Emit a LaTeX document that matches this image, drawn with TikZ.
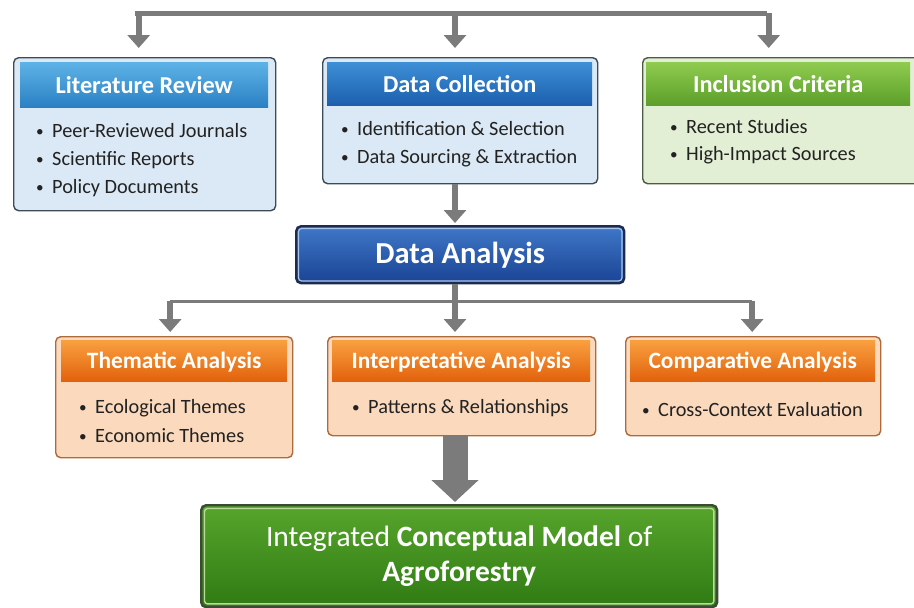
\documentclass[tikz,border=0pt]{standalone}
\usepackage{fontspec}
\setmainfont{Carlito}
\usetikzlibrary{arrows.meta,calc}
\definecolor{arrgray}{HTML}{7B7B7B}
\definecolor{txtc}{HTML}{222222}
\definecolor{blTop}{HTML}{5DB3E6}
\definecolor{blBot}{HTML}{2B80C4}
\definecolor{dbTop}{HTML}{3D8FD6}
\definecolor{dbBot}{HTML}{1D5FAE}
\definecolor{blBody}{HTML}{DAE9F5}
\definecolor{blBorder}{HTML}{3E4B57}
\definecolor{grTop}{HTML}{8FCB4F}
\definecolor{grBot}{HTML}{5C9F2A}
\definecolor{grBody}{HTML}{E3EFD5}
\definecolor{grBorder}{HTML}{4D5A45}
\definecolor{orTop}{HTML}{F8A040}
\definecolor{orBot}{HTML}{E2620C}
\definecolor{orBody}{HTML}{FAD9BD}
\definecolor{orBorder}{HTML}{B0693A}
\definecolor{daTop}{HTML}{3F77C8}
\definecolor{daBot}{HTML}{1B4394}
\definecolor{daBorder}{HTML}{1C2B4F}
\definecolor{daInner}{HTML}{A8C6EC}
\definecolor{fiTop}{HTML}{57A52C}
\definecolor{fiBot}{HTML}{2F7B14}
\definecolor{fiBorder}{HTML}{3B4A33}
\definecolor{fiInner}{HTML}{B9DC9A}
\begin{document}
\begin{tikzpicture}[x=1pt,y=-1pt,
  card/.style={draw=#1, line width=1.4pt, rounded corners=5pt, anchor=north west, inner sep=0pt},
  hdr/.style={anchor=north west, inner sep=0pt, text=white, text height=17pt, text depth=0pt,
     font=\fontsize{24.3}{26}\selectfont\bfseries},
  ohdr/.style={hdr, text height=15pt, font=\fontsize{23.4}{26}\selectfont\bfseries},
  itm/.style={anchor=base west, inner sep=0pt, text=txtc, font=\fontsize{20.3}{24}\selectfont},
  arrA/.style={draw=arrgray, line width=6pt, -{Triangle[width=22pt 0 0,length=13pt 0 0]}},
  bar/.style={draw=arrgray, line width=5pt},
  thinbar/.style={draw=arrgray, line width=3pt},
  bigarr/.style={draw=arrgray, line width=25pt, -{Triangle[width=46pt 0 0,length=22pt 0 0]}}
]
\newcommand\bul{\makebox[16pt][l]{\raisebox{1pt}{\scalebox{0.75}{\textbullet}}}}
\fill[white] (0,0) rectangle (914,608);
\useasboundingbox (0,0) rectangle (914,608);

% ---- top row cards
\node[card=blBorder, fill=blBody, minimum width=262pt, minimum height=153pt] (lit) at (13,57) {};
\node[hdr, top color=blTop, bottom color=blBot, minimum width=248pt, minimum height=45pt] (lith) at (20,62) {Literature Review};
\node[itm] (lit1) at (36,137) {\bul Peer-Reviewed Journals};
\node[itm] (lit2) at (36,165) {\bul Scientific Reports};
\node[itm] (lit3) at (36,193) {\bul Policy Documents};

\node[card=blBorder, fill=blBody, minimum width=275pt, minimum height=126pt] (dc) at (322,57) {};
\node[hdr, top color=dbTop, bottom color=dbBot, minimum width=265pt, minimum height=43pt] (dch) at (327,62) {Data Collection};
\node[itm] (dc1) at (341,135) {\bul Identification \& Selection};
\node[itm] (dc2) at (341,163) {\bul Data Sourcing \& Extraction};

\node[card=grBorder, fill=grBody, minimum width=280pt, minimum height=126pt] (incl) at (642,57) {};
\node[hdr, top color=grTop, bottom color=grBot, minimum width=264pt, minimum height=43pt] (inclh) at (646,62) {Inclusion Criteria};
\node[itm] (incl1) at (670,133) {\bul Recent Studies};
\node[itm] (incl2) at (670,160) {\bul High-Impact Sources};

% ---- data analysis
\node[card=daBorder, line width=2.4pt, top color=daTop, bottom color=daBot, minimum width=328pt, minimum height=57pt,
      text=white, text height=17pt, text depth=0pt, font=\fontsize{30.5}{32}\selectfont\bfseries] (da) at (295,225) {Data Analysis};
\draw[daInner, line width=1.2pt, rounded corners=3pt] ([shift={(3.5pt,-3.5pt)}]da.north west) rectangle ([shift={(-3.5pt,3.5pt)}]da.south east);

% ---- analysis row
\node[card=orBorder, fill=orBody, minimum width=237pt, minimum height=121pt] (them) at (55,336) {};
\node[ohdr, top color=orTop, bottom color=orBot, minimum width=226pt, minimum height=41pt] (themh) at (61,340) {Thematic Analysis};
\node[itm] (them1) at (79,413) {\bul Ecological Themes};
\node[itm] (them2) at (79,442) {\bul Economic Themes};

\node[card=orBorder, fill=orBody, minimum width=268pt, minimum height=99pt] (interp) at (327,336) {};
\node[ohdr, top color=orTop, bottom color=orBot, minimum width=258pt, minimum height=41pt] (interph) at (332,340) {Interpretative Analysis};
\node[itm] (interp1) at (352,413) {\bul Patterns \& Relationships};

\node[card=orBorder, fill=orBody, minimum width=255pt, minimum height=99pt] (comp) at (625,336) {};
\node[ohdr, top color=orTop, bottom color=orBot, minimum width=245pt, minimum height=41pt] (comph) at (630,340) {Comparative Analysis};
\node[itm] (comp1) at (642,416) {\bul Cross-Context Evaluation};

% ---- final
\node[card=fiBorder, line width=2.4pt, top color=fiTop, bottom color=fiBot, minimum width=516pt, minimum height=102pt,
      text=white, align=center, font=\fontsize{29.5}{35}\selectfont] (final) at (200,504)
      {Integrated \textbf{Conceptual Model} of\\\textbf{Agroforestry}};
\draw[fiInner, line width=1.4pt, rounded corners=3pt] ([shift={(4.5pt,-4.5pt)}]final.north west) rectangle ([shift={(-4.5pt,4.5pt)}]final.south east);

% ---- connectors
\coordinate (topc) at (455,13);
\draw[bar] ([xshift=-3pt]topc -| lith.north) ++(-6pt,0) -- ([xshift=-11pt]topc -| inclh.north);
\draw[arrA, shorten >=9pt] ([xshift=-6pt]topc -| lit.north) -- ([xshift=-6pt]lit.north);
\draw[arrA, shorten >=9pt] (topc) -- (topc |- dc.north);
\draw[arrA, shorten >=9pt] ([xshift=-14pt]topc -| incl.north) -- ([xshift=-14pt]incl.north);
\draw[arrA, shorten >=2pt] (topc |- dc.south) -- (topc |- da.north);

\coordinate (midc) at (455,301);
\draw[arrgray, line width=6pt] (topc |- da.south) -- (midc);
\draw[thinbar] ([xshift=-4pt]midc -| them.north) -- ([xshift=-1pt]midc -| comp.north);
\draw[arrA, shorten >=4pt] ([xshift=-4pt]midc -| them.north) -- ([xshift=-4pt]them.north);
\draw[arrA, shorten >=4pt] (midc) -- (midc |- interp.north);
\draw[arrA, shorten >=4pt] ([xshift=-1pt]midc -| comp.north) -- ([xshift=-1pt]comp.north);
\draw[bigarr, shorten >=2pt] (midc |- interp.south) -- (midc |- final.north);
\end{tikzpicture}
\end{document}
